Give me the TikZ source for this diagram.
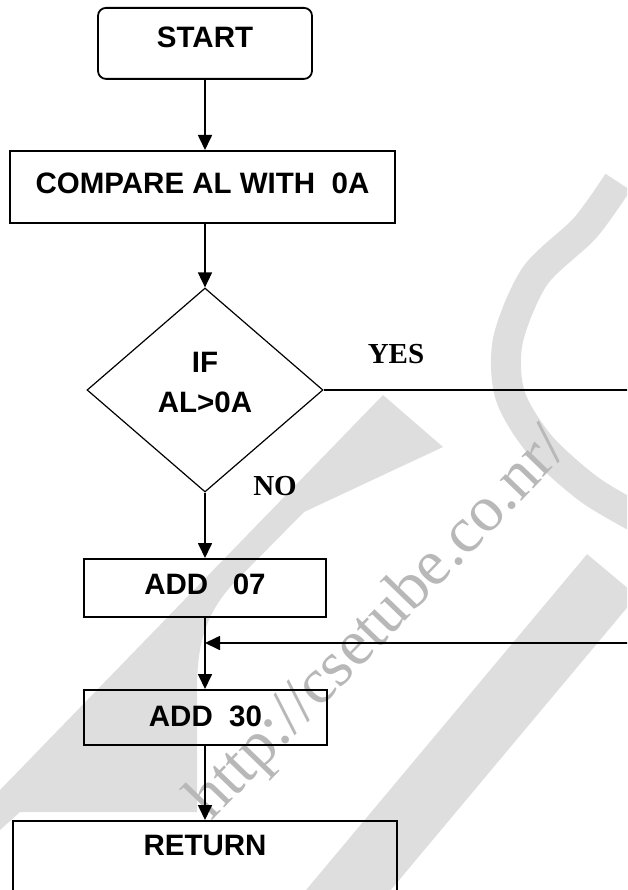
\documentclass[tikz,border=0pt]{standalone}
\usepackage{fontspec}
\setmainfont{Liberation Serif}
\newfontfamily\flowsans{Liberation Sans}
\usetikzlibrary{arrows.meta,shapes.geometric}
\definecolor{wmlight}{gray}{0.87}
\definecolor{wmtext}{gray}{0.72}
\begin{document}
\begin{tikzpicture}[x=1pt,y=-1pt,
  stepbox/.style={draw, line width=1.8pt, inner sep=0pt, anchor=north,
    font=\flowsans\bfseries\fontsize{29.5}{34}\selectfont},
  decision/.style={draw, diamond, line width=1.2pt, inner sep=0pt,
    minimum width=236pt, minimum height=204pt},
  condtext/.style={font=\flowsans\bfseries\fontsize{29.5}{40}\selectfont, align=center},
  flow/.style={line width=1.7pt, -{Triangle[length=15pt,width=14pt]}},
  tag/.style={font=\bfseries\fontsize{29}{34}\selectfont},
  wmband/.style={wmlight, line width=#1},
]
\useasboundingbox (0,0) rectangle (627,890);
\clip (0,0) rectangle (627,890);

% faint background logo and address
\draw[wmband=30pt] plot[smooth] coordinates
  {(618,182) (585,228) (535,276) (508,340) (510,395) (540,445) (590,490) (645,522)};
\fill[wmlight] (383,395) -- (443,447) -- (304,512) -- (232,585)
  .. controls (205,615) and (197,645) .. (197,690) -- (197,812)
  -- (20,812) -- (0,830) -- (0,790) -- cycle;
\draw[wmband=65pt] (612,575) -- (330,912);
\node[wmtext, font=\fontsize{65}{70}\selectfont, rotate=46, anchor=base]
  (site) at (391,636) {http://csetube.co.nr/};

% flowchart steps
\node[stepbox, rounded corners=8pt, minimum width=214pt,
  text height=40pt, text depth=31pt] (start) at (205,7) {START};
\node[stepbox, minimum width=385pt,
  text height=43pt, text depth=29pt] (cmp) at (202.5,150) {COMPARE AL WITH\ \ 0A};
\node[decision, label={[condtext, yshift=8pt]center:IF\\AL>0A}] (cond) at (205,390) {};
\node[stepbox, minimum width=242pt,
  text height=36pt, text depth=22pt] (add7) at (205,558) {ADD\ \ \ 07};
\node[stepbox, minimum width=243pt,
  text height=37pt, text depth=18pt] (add30) at (205.5,689) {ADD\ \ 30};
\node[stepbox, minimum width=384pt,
  text height=35pt, text depth=70pt] (ret) at (205,820) {RETURN};

% branch labels
\node[tag] (yes) at (396,354) {YES};
\node[tag] (no) at (275,486) {NO};

% connectors
\coordinate (yesend) at (640,390);
\coordinate (backin) at (640,643);
\coordinate (join) at (205,643);
\draw[flow] (start.south) -- (start.south |- cmp.north);
\draw[flow] (cmp.south -| cond.north) -- (cond.north);
\draw[flow] (cond.south) -- (add7.north);
\draw[flow] (add7.south) -- (add7.south |- add30.north);
\draw[flow] (add30.south -| ret.north) -- (ret.north);
\draw[line width=1.4pt] (cond.east) -- (yesend);
\draw[flow] (backin) -- (join);
\end{tikzpicture}
\end{document}
